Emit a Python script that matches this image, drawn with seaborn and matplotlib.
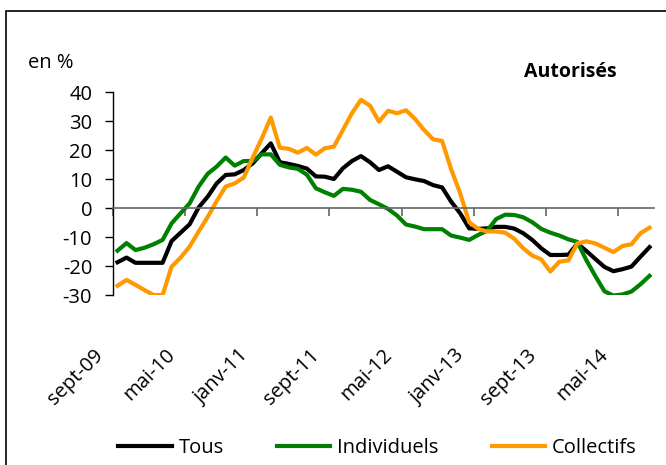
import matplotlib
matplotlib.use("Agg")
import matplotlib.pyplot as plt
import matplotlib.transforms as mtransforms
from matplotlib.patches import Rectangle
import numpy as np
import pandas as pd
import seaborn as sns

# Glissement annuel des logements autorisés, en %, sept-09 -> août-14 (mensuel)
tous = [
    -18.6, -17.0, -18.8, -18.8, -18.8, -18.8, -11.3, -8.4, -5.5, 0.3,
    4.0, 8.6, 11.5, 11.7, 13.2, 15.5, 19.0, 22.4, 15.9, 15.3,
    14.6, 13.7, 11.0, 10.9, 10.1, 13.8, 16.3, 18.0, 15.9, 13.2,
    14.5, 12.6, 10.7, 10.0, 9.4, 8.0, 7.2, 2.3, -1.7, -6.9,
    -7.1, -6.9, -6.4, -6.4, -7.0, -8.6, -10.9, -13.8, -16.1, -16.1,
    -16.0, -12.2, -14.7, -17.5, -20.2, -21.7, -21.0, -20.1, -16.7, -13.4,
]
individuels = [
    -14.6, -12.0, -14.4, -13.6, -12.4, -10.9, -5.2, -1.7, 1.7, 7.5,
    11.9, 14.4, 17.5, 14.7, 16.3, 16.3, 18.6, 18.6, 15.0, 14.1,
    13.6, 11.6, 6.9, 5.5, 4.3, 6.7, 6.4, 5.7, 2.9, 1.4,
    -0.2, -2.5, -5.6, -6.3, -7.2, -7.2, -7.2, -9.4, -10.1, -10.9,
    -9.2, -7.7, -3.7, -2.2, -2.3, -3.1, -4.8, -7.1, -8.4, -9.4,
    -10.7, -11.6, -17.9, -23.4, -28.6, -30.1, -29.7, -28.7, -26.2, -23.3,
]
collectifs = [
    -26.7, -24.7, -26.4, -28.2, -29.9, -29.9, -20.1, -17.0, -13.2, -8.0,
    -3.0, 2.5, 7.5, 8.6, 10.6, 17.5, 24.1, 31.3, 20.9, 20.5,
    19.2, 20.8, 18.5, 20.7, 21.3, 27.0, 32.8, 37.4, 35.4, 29.9,
    33.6, 32.8, 33.8, 30.8, 27.0, 23.8, 23.2, 13.5, 5.2, -4.8,
    -7.1, -8.0, -8.0, -8.4, -10.5, -13.8, -16.3, -17.6, -21.8, -18.4,
    -18.0, -12.1, -11.4, -12.1, -13.6, -15.1, -13.0, -12.4, -8.6, -6.7,
]
tick_labels = ["sept-09", "mai-10", "janv-11", "sept-11",
               "mai-12", "janv-13", "sept-13", "mai-14"]
series = ["Tous", "Individuels", "Collectifs"]
colors = {"Tous": "#000000", "Individuels": "#008000", "Collectifs": "#FF9900"}

n_mois = len(tous)

plt.rcParams["font.family"] = ["Open Sans", "DejaVu Sans"]
plt.rcParams["axes.unicode_minus"] = False
fs = 14.5

df = pd.DataFrame({"mois": np.arange(n_mois), "Tous": tous,
                   "Individuels": individuels, "Collectifs": collectifs})
df = df.melt(id_vars="mois", var_name="serie", value_name="val")

fig = plt.figure(figsize=(6.66, 4.65), dpi=100)
W, H = 666, 465
ax = fig.add_axes([113 / W, 1 - 295.3 / H, 541 / W, 203 / H])

sns.lineplot(data=df, x="mois", y="val", hue="serie", hue_order=series,
             palette=colors, linewidth=3, ax=ax)
handles, labels = ax.get_legend_handles_labels()
ax.get_legend().remove()

ax.set_xlim(-0.5, n_mois - 0.5)
ax.set_ylim(-30, 40)
ax.set_xlabel("")
ax.set_ylabel("")

# axes styling (Excel-like: category axis crossing at 0)
for side in ["top", "right"]:
    ax.spines[side].set_visible(False)
ax.spines["bottom"].set_position(("data", 0))
ax.spines["bottom"].set_color("#666666")
ax.spines["bottom"].set_linewidth(1.2)
ax.spines["left"].set_color("black")
ax.spines["left"].set_linewidth(1)

ax.set_yticks(range(-30, 41, 10))
ax.set_xticks(np.arange(-0.5, n_mois - 1, 8))
ax.set_xticklabels([])
ax.tick_params(axis="x", direction="out", length=6, width=1.2, color="#666666")
ax.tick_params(axis="y", direction="out", length=6, width=1, color="black",
               pad=9, labelsize=fs)

# labels of the category axis sit low, below the plot
sec = ax.secondary_xaxis("bottom")
sec.set_xticks(np.arange(0, n_mois, 8))
sec.set_xticklabels(tick_labels)
sec.spines["bottom"].set_visible(False)
sec.tick_params(length=0, pad=36, labelsize=fs)
offset = mtransforms.ScaledTranslation(-0.24, 0, fig.dpi_scale_trans)
for lab in sec.get_xticklabels():
    lab.set_rotation(45)
    lab.set_ha("right")
    lab.set_va("top")
    lab.set_rotation_mode("anchor")
    lab.set_transform(lab.get_transform() + offset)

for h in handles:
    h.set_linewidth(3)
fig.legend(handles, labels, loc="center", bbox_to_anchor=(0.567, 0.036),
           ncol=3, frameon=False, handlelength=2.64, handletextpad=0.35,
           columnspacing=2.64, fontsize=fs)

fig.text(28 / W, 1 - 68 / H, "en %", fontsize=fs, va="baseline")
fig.text(617 / W, 1 - 77 / H, "Autorisés", fontsize=14, fontweight="bold",
         ha="right", va="baseline")

# chart frame
fig.add_artist(Rectangle((6 / W, -0.1), 1.2, 1 - 11 / H + 0.1,
                         transform=fig.transFigure, fill=False,
                         ec="black", lw=1.2))

fig.savefig("out.png", dpi=100)
